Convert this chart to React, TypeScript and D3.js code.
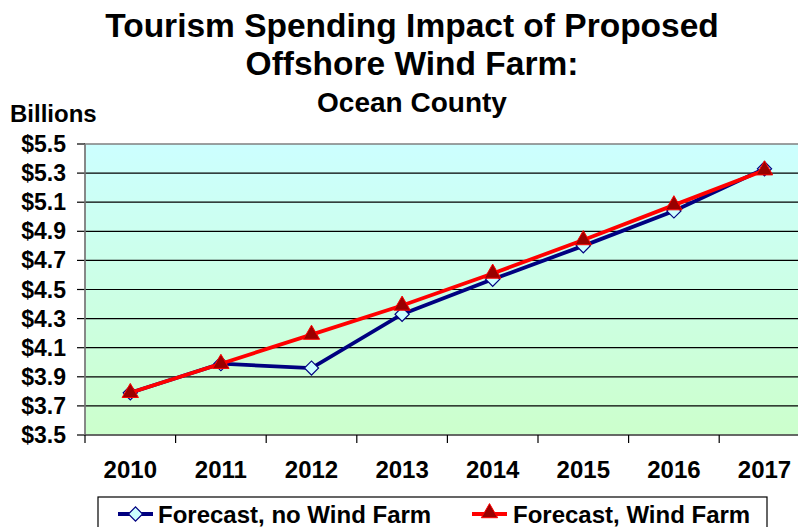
import React from "react";
import * as d3 from "d3";

const years = ["2010", "2011", "2012", "2013", "2014", "2015", "2016", "2017"];
const noWindFarm = [3.79, 3.99, 3.96, 4.33, 4.57, 4.8, 5.04, 5.33];
const windFarm = [3.79, 3.99, 4.19, 4.39, 4.61, 4.84, 5.08, 5.32];
const yTicks = [3.5, 3.7, 3.9, 4.1, 4.3, 4.5, 4.7, 4.9, 5.1, 5.3, 5.5];

export default function App() {
  const W = 798, H = 527;
  const left = 85, top = 144, bottom = 435;
  const band = 90.6;
  const right = left + band * years.length;
  const x = d3.scaleBand().domain(years).range([left, right]);
  const y = d3.scaleLinear().domain([3.5, 5.5]).range([bottom, top]);
  const cx = (d: string) => (x(d) as number) + x.bandwidth() / 2;
  const line = d3.line<number>().x((_, i) => cx(years[i])).y((v) => y(v));
  const font = "Arial, 'Liberation Sans', sans-serif";
  const tri = d3.symbol().type(d3.symbolTriangle).size(115)();
  return (
    <svg width={W} height={H} style={{ position: "absolute", left: 0, top: 0 }} fontFamily={font}>
      <defs>
        <linearGradient id="bg" x1="0" y1="0" x2="0" y2="1">
          <stop offset="0" stopColor="#ccffff" />
          <stop offset="1" stopColor="#ccffcc" />
        </linearGradient>
      </defs>
      <rect width={W} height={H} fill="#fff" />
      <text x={412} y={37} textAnchor="middle" fontSize={33.5} fontWeight="bold">Tourism Spending Impact of Proposed</text>
      <text x={412} y={75} textAnchor="middle" fontSize={33.5} fontWeight="bold">Offshore Wind Farm:</text>
      <text x={412} y={112} textAnchor="middle" fontSize={28} fontWeight="bold">Ocean County</text>
      <text x={10} y={122} fontSize={24} fontWeight="bold">Billions</text>
      <rect x={left} y={top} width={right - left} height={bottom - top} fill="url(#bg)" stroke="#808080" strokeWidth={1.5} />
      {yTicks.map((t) => (
        <g key={t}>
          {t > 3.5 && t < 5.5 && <line x1={left} x2={right} y1={y(t)} y2={y(t)} stroke="#000" strokeWidth={1.2} />}
          <line x1={left - 8} x2={left} y1={y(t)} y2={y(t)} stroke="#000" strokeWidth={1.2} />
          <text x={66} y={y(t) + 8} textAnchor="end" fontSize={23} fontWeight="bold">${t.toFixed(1)}</text>
        </g>
      ))}
      <line x1={left} x2={left} y1={top} y2={bottom} stroke="#808080" strokeWidth={1.5} />
      <line x1={left} x2={right} y1={bottom} y2={bottom} stroke="#333" strokeWidth={1.2} />
      {years.map((yr, i) => (
        <g key={yr}>
          <line x1={left + band * i} x2={left + band * i} y1={bottom} y2={bottom + 8} stroke="#000" strokeWidth={1.2} />
          <text x={cx(yr)} y={478} textAnchor="middle" fontSize={24} fontWeight="bold">{yr}</text>
        </g>
      ))}
      <path d={line(noWindFarm) || ""} fill="none" stroke="#000080" strokeWidth={3.8} />
      {noWindFarm.map((v, i) => (
        <rect key={i} x={-5} y={-5} width={10} height={10} transform={`translate(${cx(years[i])},${y(v)}) rotate(45)`} fill="#ccffff" stroke="#000080" strokeWidth={1.2} />
      ))}
      <path d={line(windFarm) || ""} fill="none" stroke="#ff0000" strokeWidth={3.8} />
      {windFarm.map((v, i) => (
        <path key={i} d={tri || ""} transform={`translate(${cx(years[i])},${y(v)})`} fill="#990000" stroke="#ff0000" strokeWidth={1} />
      ))}
      <rect x={98} y={497} width={669} height={40} fill="#fff" stroke="#000" strokeWidth={1.2} />
      <line x1={118} x2={153} y1={514} y2={514} stroke="#000080" strokeWidth={3.8} />
      <rect x={-5} y={-5} width={10} height={10} transform="translate(135.5,514) rotate(45)" fill="#ccffff" stroke="#000080" strokeWidth={1.2} />
      <text x={158} y={523} fontSize={24} fontWeight="bold">Forecast, no Wind Farm</text>
      <line x1={472} x2={507} y1={514} y2={514} stroke="#ff0000" strokeWidth={3.8} />
      <path d={tri || ""} transform="translate(489.5,513)" fill="#990000" stroke="#ff0000" strokeWidth={1} />
      <text x={513} y={523} fontSize={24} fontWeight="bold">Forecast, Wind Farm</text>
    </svg>
  );
}
